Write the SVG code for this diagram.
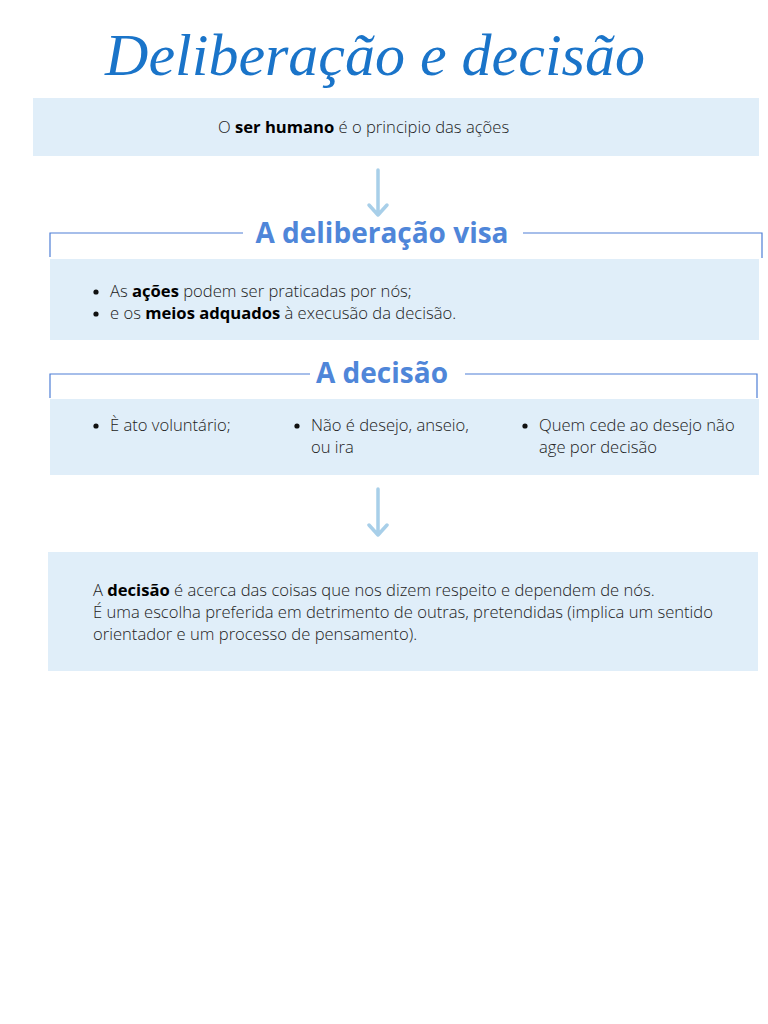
<svg xmlns="http://www.w3.org/2000/svg" width="768" height="1024" viewBox="0 0 768 1024">
<style>
.box{fill:#e0eef9}
.t{font-family:"Open Sans",sans-serif;font-size:16.6px;font-weight:300;fill:#222}
.b{font-weight:bold;fill:#000}
.h{font-family:"Open Sans",sans-serif;font-size:28px;font-weight:bold;fill:#4f86d9;text-anchor:middle}
.hl{stroke:#4f7fd6;stroke-width:1.2;fill:none}
.ar{stroke:#a8cfe9;stroke-width:3.5;fill:none;stroke-linecap:round;stroke-linejoin:round}
</style>
<rect width="768" height="1024" fill="#fff"/>
<g id="title"><text x="375" y="75" text-anchor="middle" font-family="'Liberation Serif',serif" font-style="italic" font-size="60" fill="#1a74c9">Deliberação e decisão</text></g>
<g id="n1"><rect class="box" x="33" y="98" width="726" height="58"/>
<text class="t" x="218" y="133">O <tspan class="b">ser humano</tspan> é o principio das ações</text></g>
<g id="n2">
<path class="hl" d="M50,257V233H243M523,233H762V258"/>
<text class="h" x="382" y="243">A deliberação visa</text>
<rect class="box" x="50" y="259" width="709" height="81"/>
<circle cx="96" cy="292" r="2.6" fill="#111"/><circle cx="96" cy="314" r="2.6" fill="#111"/>
<text class="t" x="110" y="297">As <tspan class="b">ações</tspan> podem ser praticadas por nós;</text>
<text class="t" x="110" y="319">e os <tspan class="b">meios adquados</tspan> à execusão da decisão.</text>
</g>
<g id="n3">
<path class="hl" d="M50,398V374H310M465,374H757V398"/>
<text class="h" x="382" y="383">A decisão</text>
<rect class="box" x="50" y="399" width="709" height="76"/>
<circle cx="96" cy="426" r="2.6" fill="#111"/><circle cx="297" cy="426" r="2.6" fill="#111"/><circle cx="525" cy="426" r="2.6" fill="#111"/>
<text class="t" x="110" y="431">È ato voluntário;</text>
<text class="t" x="311" y="431">Não é desejo, anseio,</text>
<text class="t" x="311" y="453">ou ira</text>
<text class="t" x="539" y="431">Quem cede ao desejo não</text>
<text class="t" x="539" y="453">age por decisão</text>
</g>
<g id="n4"><rect class="box" x="48" y="552" width="710" height="119"/>
<text class="t" x="93" y="596">A <tspan class="b">decisão</tspan> é acerca das coisas que nos dizem respeito e dependem de nós.</text>
<text class="t" x="93" y="618">É uma escolha preferida em detrimento de outras, pretendidas (implica um sentido</text>
<text class="t" x="93" y="640">orientador e um processo de pensamento).</text></g>
<g id="connectors">
<path class="ar" d="M378,170V215M369,205L378,215L387,205"/>
<path class="ar" d="M378,489V535M369,525L378,535L387,525"/>
</g>
</svg>
